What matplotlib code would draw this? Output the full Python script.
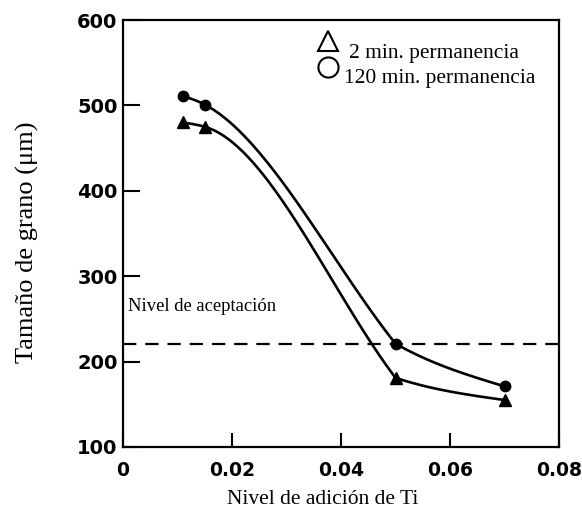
import numpy as np
import matplotlib
matplotlib.use("Agg")
import matplotlib.pyplot as plt

# Data
ti_levels = [0.011, 0.015, 0.05, 0.07]
grain_120min = [511, 501, 221, 171]
grain_2min = [480, 475, 181, 155]
acceptance_level = 221

x_ticks = [0, 0.02, 0.04, 0.06, 0.08]
x_ticklabels = ["0", "0.02", "0.04", "0.06", "0.08"]
y_ticks = [100, 200, 300, 400, 500, 600]
y_ticklabels = ["100", "200", "300", "400", "500", "600"]


def smooth_curve(x, y, npts=80):
    """Piecewise cubic Hermite through the points (hand-drawn style)."""
    x = np.asarray(x, float)
    y = np.asarray(y, float)
    n = len(x)
    h = np.diff(x)
    d = np.diff(y) / h
    # harmonic (PCHIP-like) tangents
    m = np.zeros(n)
    for i in range(1, n - 1):
        if d[i - 1] * d[i] > 0:
            w1 = 2 * h[i] + h[i - 1]
            w2 = h[i] + 2 * h[i - 1]
            m[i] = (w1 + w2) / (w1 / d[i - 1] + w2 / d[i])
    m[0] = (3 * d[0] - m[1]) / 2
    m[-1] = (3 * d[-1] - m[-2]) / 2
    xs_all, ys_all = [], []
    for i in range(n - 1):
        m0 = m[i]
        # arriving tangent: follow a steep segment right into the point
        m1 = d[i] if (i + 1 < n - 1 and abs(d[i]) > abs(d[i + 1])) else m[i + 1]
        t = np.linspace(0, 1, npts)
        h00 = 2 * t ** 3 - 3 * t ** 2 + 1
        h10 = t ** 3 - 2 * t ** 2 + t
        h01 = -2 * t ** 3 + 3 * t ** 2
        h11 = t ** 3 - t ** 2
        ys = h00 * y[i] + h10 * h[i] * m0 + h01 * y[i + 1] + h11 * h[i] * m1
        xs_all.append(x[i] + t * h[i])
        ys_all.append(ys)
    return np.concatenate(xs_all), np.concatenate(ys_all)


serif = ["Liberation Serif", "DejaVu Serif"]

W, H = 582, 509
fig = plt.figure(figsize=(W / 100, H / 100), dpi=100)
ax = fig.add_axes([123 / W, 1 - 447 / H, 436 / W, 427 / H])

for data, marker, ms in [(grain_120min, "o", 7.5), (grain_2min, "^", 9)]:
    cx, cy = smooth_curve(ti_levels, data)
    ax.plot(cx, cy, color="black", lw=1.9, solid_capstyle="round")
    ax.plot(ti_levels, data, linestyle="none", marker=marker, color="black", ms=ms)

ax.axhline(acceptance_level, color="black", lw=1.6, dashes=(6, 4))
ax.text(0.0009, 264, "Nivel de aceptación", family=serif, fontsize=13.4,
        ha="left", va="center")

# legend
ax.plot([0.0376], [575], marker="^", mfc="white", mec="black", ms=14, mew=1.5,
        linestyle="none", clip_on=False)
ax.plot([0.0376], [545], marker="o", mfc="white", mec="black", ms=14.5, mew=1.5,
        linestyle="none", clip_on=False)
ax.text(0.0415, 561, "2 min. permanencia", family=serif, fontsize=15.5,
        ha="left", va="center")
ax.text(0.0406, 532, "120 min. permanencia", family=serif, fontsize=15.5,
        ha="left", va="center")

ax.set_xlim(0, 0.08)
ax.set_ylim(100, 600)
ax.set_xticks(x_ticks)
ax.set_xticklabels(x_ticklabels)
ax.set_yticks(y_ticks)
ax.set_yticklabels(y_ticklabels)
ax.tick_params(direction="in", length=12, width=1.5, labelsize=13.5)
ax.tick_params(axis="x", pad=10, length=10)
ax.tick_params(axis="y", pad=4, labelsize=14)
for lab in ax.get_xticklabels() + ax.get_yticklabels():
    lab.set_fontweight("bold")
for s in ax.spines.values():
    s.set_linewidth(1.6)

fig.text(323 / W, 1 - 500 / H, "Nivel de adición de Ti", family=serif,
         fontsize=15.5, ha="center", va="center")
fig.text(27 / W, 1 - 242 / H, "Tamaño de grano (μm)", family=serif,
         fontsize=19, ha="center", va="center", rotation=90)

fig.savefig("out.png", dpi=100)
